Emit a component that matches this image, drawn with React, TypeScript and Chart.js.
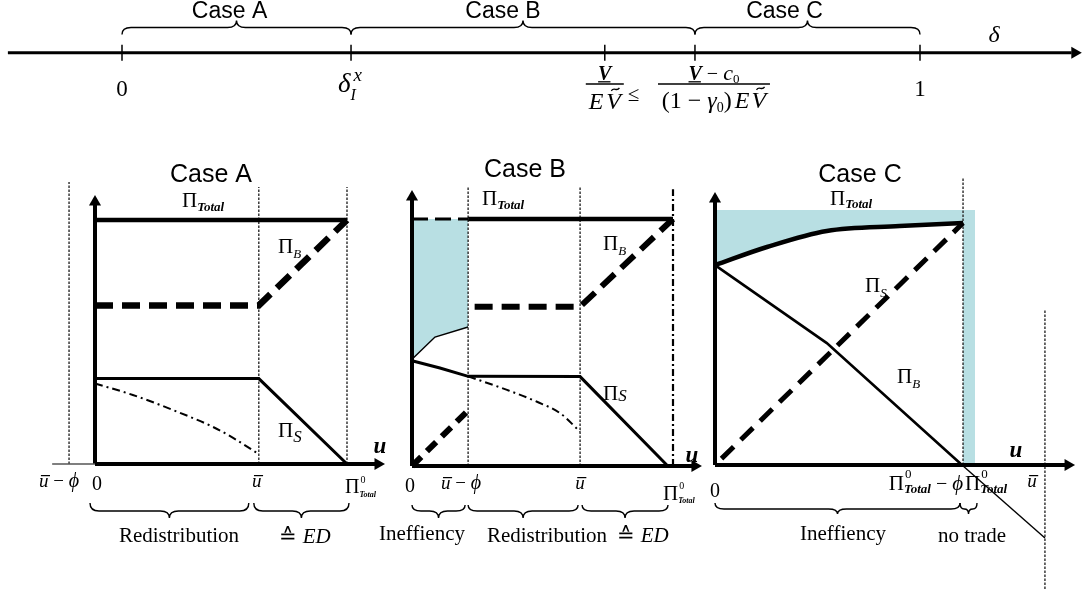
import React, { useEffect, useRef } from 'react';
import { Chart, registerables } from 'chart.js';

Chart.register(...registerables);

// ---------------- fonts & colours ----------------
const SANS = '"Liberation Sans", Arial, Helvetica, sans-serif';
const SERIF = '"Liberation Serif", "Times New Roman", Times, serif';
const INK = '#000000';
const GUIDE = '#2a2a2a';
const BLUE = 'rgb(184, 223, 227)';
const PHI = 'ϕ';

// ---------------- data: δ number line ----------------
const deltaI = 0.287;
const deltaLow = 0.605;
const deltaHigh = 0.718;
const deltaTicks = [0, deltaI, deltaLow, deltaHigh, 1];
const deltaAxis = [-0.143, 1.19];
const caseLabels = ['Case A', 'Case B', 'Case C'];
const caseRanges = [[0, deltaI], [deltaI, deltaHigh], [deltaHigh, 1]];

// ---------------- data: Case A (u on x, payoff on y, Π⁰_Total = 100) ----------------
const piTotalA = 100;
const uBarA = 65;
const uBarPhiA = -10.3;
const totalA = [[0, 100], [100, 100]];
const buyerA = [[0, 65], [65, 65], [100, 100]];
const sellerA = [[0, 35], [65, 35], [100, 0]];
const sellerAltA = [[0, 33], [15, 28.3], [31, 22.1], [46.8, 15.2], [54.8, 10.7], [64.3, 4.5]];
const guidesA = [[uBarPhiA, 0, 115.6], [uBarA, 0, 113.5], [piTotalA, 0, 113.5]];
const axesA = { xStart: -17, xEnd: 112.3, yEnd: 107.4 };

// ---------------- data: Case B ----------------
const piTotalB = 100;
const uBarB = 64.4;
const uBarPhiB = 21.5;
const totalDashB = [[0, 100], [21.5, 100]];
const totalB = [[21.5, 100], [100, 100]];
const buyerLowB = [[0, 0], [21.5, 22.5]];
const buyerB = [[24, 64.5], [64.4, 64.5], [100, 100]];
const sellerB = [[0, 42.6], [10.7, 39.7], [21.5, 36.3], [64.4, 36.2], [98, 0]];
const sellerAltB = [[21.5, 36.3], [36.4, 30.8], [47.9, 26], [56.7, 21.4], [64.4, 13.9]];
const lossEdgeB = [[0.5, 43.7], [8.8, 52.2], [21.5, 56.3]];
const guidesB = [[uBarPhiB, 0, 113], [uBarB, 0, 113]];
const edgeGuideB = [piTotalB, 0, 112];
const axesB = { xEnd: 108.4, yEnd: 108.9 };

// ---------------- data: Case C ----------------
const piTotalC = 100;
const piPhiC = 95.4;
const uBarC = 126.9;
const totalC = [[0, 78.4], [20, 85.5], [43, 91.8], [71, 93.7], [95.4, 94.9]];
const sellerC = [[2.5, 2.5], [95.4, 94.9]];
const buyerC = [[0, 78.4], [43, 47.8], [95, 0]];
const buyerExtC = [[95, 0], [126.9, -28.6]];
const guidesC = [[piPhiC, 0, 112.5], [uBarC, -48.6, 60.8]];
const axesC = { xEnd: 135.8, yEnd: 104.3 };

// ---------------- layout (page pixels) ----------------
type Box = { left: number; top: number; width: number; height: number; ox: number; oy: number; sx: number; sy: number };
const BOX_TOP: Box = { left: 0, top: 0, width: 1084, height: 130, ox: 122, oy: 52.7, sx: 798, sy: 1 };
const BOX_A: Box = { left: 0, top: 140, width: 392, height: 430, ox: 95, oy: 464, sx: 2.52, sy: 2.44 };
const BOX_B: Box = { left: 370, top: 140, width: 340, height: 430, ox: 412, oy: 466, sx: 2.61, sy: 2.47 };
const BOX_C: Box = { left: 700, top: 140, width: 384, height: 452, ox: 715, oy: 465, sx: 2.6, sy: 2.55 };
const caseLabelShift = [-7, -20, -23];

// ---------------- helpers ----------------
const P = (a: number[][]) => a.map(([x, y]) => ({ x, y }));

function seg(data: number[][], o: any = {}) {
  return {
    data: P(data), showLine: true, pointRadius: 0, pointHoverRadius: 0, borderColor: INK,
    borderWidth: 2, backgroundColor: INK, fill: false, tension: 0, borderCapStyle: 'butt',
    borderJoinStyle: 'miter', ...o,
  };
}
function guide(g: number[], o: any = {}) {
  return seg([[g[0], g[1]], [g[0], g[2]]], { borderColor: GUIDE, borderWidth: 1.4, borderDash: [2.5, 1.5], ...o });
}
function arrow(x: number, y: number, rot: number) {
  return {
    data: [{ x, y }], showLine: false, pointRadius: 7, pointHoverRadius: 7, pointStyle: 'triangle',
    pointRotation: rot, pointBackgroundColor: INK, pointBorderColor: INK, pointBorderWidth: 0,
  };
}

type Run = { t: string; s: number; sans?: boolean; i?: boolean; b?: boolean; dy?: number; dx?: number; over?: boolean; under?: boolean; tilde?: boolean; noAdv?: boolean };
const fontOf = (r: Run) => `${r.i ? 'italic ' : ''}${r.b ? 'bold ' : ''}${r.s}px ${r.sans ? SANS : SERIF}`;

function tildeMark(ctx: CanvasRenderingContext2D, cx: number, cy: number, w: number) {
  ctx.beginPath();
  ctx.lineWidth = 1.3;
  ctx.moveTo(cx - w / 2, cy + 1.5);
  ctx.bezierCurveTo(cx - w / 6, cy - 3, cx + w / 6, cy + 3, cx + w / 2, cy - 1.5);
  ctx.stroke();
}

function text(ctx: CanvasRenderingContext2D, x: number, y: number, runs: Run[], align = 'left') {
  ctx.save();
  ctx.fillStyle = INK;
  ctx.strokeStyle = INK;
  ctx.textBaseline = 'alphabetic';
  ctx.textAlign = 'left';
  const ws = runs.map((r) => { ctx.font = fontOf(r); return ctx.measureText(r.t).width; });
  let total = 0;
  runs.forEach((r, k) => { if (!r.noAdv) total += (r.dx || 0) + ws[k]; });
  let cx = align === 'center' ? x - total / 2 : align === 'right' ? x - total : x;
  runs.forEach((r, k) => {
    const px = cx + (r.dx || 0);
    const by = y + (r.dy || 0);
    const w = ws[k];
    ctx.font = fontOf(r);
    ctx.fillText(r.t, px, by);
    ctx.lineWidth = Math.max(1.1, r.s * 0.065);
    if (r.over) {
      ctx.beginPath();
      ctx.moveTo(px + r.s * 0.1, by - r.s * 0.6);
      ctx.lineTo(px + w + r.s * 0.08, by - r.s * 0.6);
      ctx.stroke();
    }
    if (r.under) {
      ctx.beginPath();
      ctx.moveTo(px, by + r.s * 0.09);
      ctx.lineTo(px + w - r.s * 0.05, by + r.s * 0.09);
      ctx.stroke();
    }
    if (r.tilde) tildeMark(ctx, px + w * 0.62, by - r.s * 0.82, w * 0.55);
    if (!r.noAdv) cx = px + w;
  });
  ctx.restore();
}

function hline(ctx: CanvasRenderingContext2D, x1: number, x2: number, y: number, lw: number) {
  ctx.save();
  ctx.strokeStyle = INK;
  ctx.lineWidth = lw;
  ctx.beginPath();
  ctx.moveTo(x1, y);
  ctx.lineTo(x2, y);
  ctx.stroke();
  ctx.restore();
}

function brace(ctx: CanvasRenderingContext2D, x1: number, x2: number, yEnd: number, yFlat: number, yTip: number) {
  const xt = (x1 + x2) / 2;
  const r = Math.min(9, (x2 - x1) / 4);
  ctx.save();
  ctx.lineWidth = 1.4;
  ctx.strokeStyle = INK;
  ctx.beginPath();
  ctx.moveTo(x1, yEnd);
  ctx.quadraticCurveTo(x1, yFlat, x1 + r, yFlat);
  ctx.lineTo(xt - r, yFlat);
  ctx.quadraticCurveTo(xt, yFlat, xt, yTip);
  ctx.quadraticCurveTo(xt, yFlat, xt + r, yFlat);
  ctx.lineTo(x2 - r, yFlat);
  ctx.quadraticCurveTo(x2, yFlat, x2, yEnd);
  ctx.stroke();
  ctx.restore();
}

const PI = (sub: string, s = 21, ss = 13, dy = 5, italicBold = false): Run[] => [
  { t: 'Π', s }, { t: sub, s: ss, i: true, b: italicBold, dy },
];
const PI0 = (s: number, sup: number, sub: number, supDy: number, subDy: number): Run[] => [
  { t: 'Π', s }, { t: '0', s: sup, dy: supDy, dx: 1, noAdv: true }, { t: 'Total', s: sub, i: true, b: true, dy: subDy },
];
const UBAR = (s: number): Run => ({ t: 'u', s, i: true, over: true });

// ---------------- drawings per chart ----------------
function drawTop(ctx: CanvasRenderingContext2D, X: (v: number) => number) {
  caseRanges.forEach(([a, b], k) => {
    brace(ctx, X(a), X(b), 34.5, 27.5, 20.5);
    text(ctx, X((a + b) / 2) + caseLabelShift[k], 18, [{ t: caseLabels[k], s: 23, sans: true }], 'center');
  });
  text(ctx, X(0), 96, [{ t: '0', s: 23 }], 'center');
  text(ctx, X(deltaI) - 13, 92, [
    { t: 'δ', s: 27, i: true },
    { t: 'x', s: 19, i: true, dy: -11, dx: 3, noAdv: true },
    { t: 'I', s: 16, i: true, dy: 8 },
  ]);
  const c1 = X(deltaLow);
  text(ctx, c1, 80, [{ t: 'V', s: 20, i: true, b: true, under: true }], 'center');
  hline(ctx, c1 - 19, c1 + 19, 84, 1.3);
  text(ctx, c1, 109, [{ t: 'E', s: 24, i: true }, { t: 'V', s: 24, i: true, dx: 3, tilde: true }], 'center');
  text(ctx, c1 + 23, 101, [{ t: '≤', s: 21 }]);
  const c2 = X(deltaHigh) + 19;
  text(ctx, c2, 80, [
    { t: 'V', s: 20, i: true, b: true, under: true },
    { t: ' − ', s: 20 },
    { t: 'c', s: 22, i: true },
    { t: '0', s: 13, dy: 3 },
  ], 'center');
  hline(ctx, c2 - 56, c2 + 56, 84, 1.3);
  text(ctx, c2, 108, [
    { t: '(1 − ', s: 24 },
    { t: 'γ', s: 24, i: true },
    { t: '0', s: 14, dy: 4 },
    { t: ')', s: 24 },
    { t: 'E', s: 24, i: true, dx: 3 },
    { t: 'V', s: 24, i: true, dx: 2, tilde: true },
  ], 'center');
  text(ctx, X(1), 96, [{ t: '1', s: 23 }], 'center');
  text(ctx, 994, 42, [{ t: 'δ', s: 24, i: true }], 'center');
}

function drawA(ctx: CanvasRenderingContext2D, X: (v: number) => number) {
  text(ctx, 211, 182, [{ t: 'Case A', s: 25, sans: true }], 'center');
  text(ctx, 182, 207, PI('Total', 21, 13, 4, true));
  text(ctx, 278, 253, PI('B', 21, 13, 5));
  text(ctx, 278, 437, PI('S', 21, 17, 5));
  text(ctx, 380, 453, [{ t: 'u', s: 23, i: true, b: true }], 'center');
  text(ctx, X(uBarPhiA) - 10, 487, [UBAR(19), { t: ' − ', s: 19 }, { t: PHI, s: 20, i: true }], 'center');
  text(ctx, X(0) + 2, 490, [{ t: '0', s: 20 }], 'center');
  text(ctx, X(uBarA) - 2, 487, [UBAR(19)], 'center');
  text(ctx, X(piTotalA) - 2, 493, PI0(20, 10, 8, -10.5, 3.5));
  brace(ctx, X(0) - 5, X(uBarA) - 10, 503, 511, 518);
  brace(ctx, X(uBarA) - 5, X(piTotalA) + 2, 503, 511, 518);
  text(ctx, 179, 542, [{ t: 'Redistribution', s: 21 }], 'center');
  text(ctx, 305, 543, [{ t: '≙ ', s: 21 }, { t: 'ED', s: 21, i: true }], 'center');
}

function drawB(ctx: CanvasRenderingContext2D, X: (v: number) => number) {
  text(ctx, 525, 177, [{ t: 'Case B', s: 25, sans: true }], 'center');
  text(ctx, 482, 205, PI('Total', 21, 13, 4, true));
  text(ctx, 603, 250, PI('B', 21, 13, 5));
  text(ctx, 603, 400, PI('S', 21, 17, 1));
  text(ctx, 692, 462, [{ t: 'u', s: 23, i: true, b: true }], 'center');
  text(ctx, X(0) - 2, 492, [{ t: '0', s: 20 }], 'center');
  text(ctx, X(uBarPhiB) - 7, 489, [UBAR(19), { t: ' − ', s: 19 }, { t: PHI, s: 20, i: true }], 'center');
  text(ctx, X(uBarB), 489, [UBAR(19)], 'center');
  text(ctx, X(piTotalB) - 10, 500, PI0(21, 10, 8, -11, 3));
  brace(ctx, X(0), X(uBarPhiB) - 3, 505, 511, 518);
  brace(ctx, X(uBarPhiB), X(uBarB) - 2, 505, 511, 518);
  brace(ctx, X(uBarB) + 2, X(piTotalB) - 5, 505, 511, 518);
  text(ctx, 422, 540, [{ t: 'Ineffiency', s: 21 }], 'center');
  text(ctx, 547, 542, [{ t: 'Redistribution', s: 21 }], 'center');
  text(ctx, 643, 542, [{ t: '≙ ', s: 21 }, { t: 'ED', s: 21, i: true }], 'center');
}

function drawC(ctx: CanvasRenderingContext2D, X: (v: number) => number) {
  text(ctx, 860, 182, [{ t: 'Case C', s: 25, sans: true }], 'center');
  text(ctx, 830, 205, PI('Total', 21, 13, 3, true));
  text(ctx, 865, 292, PI('S', 21, 13, 5));
  text(ctx, 897, 383, PI('B', 21, 13, 5));
  text(ctx, 1016, 457, [{ t: 'u', s: 23, i: true, b: true }], 'center');
  text(ctx, X(0), 497, [{ t: '0', s: 20 }], 'center');
  text(ctx, X(piPhiC), 490, [...PI0(21, 13, 13, -12, 3), { t: ' − ', s: 20 }, { t: PHI, s: 21, i: true }], 'right');
  text(ctx, X(piTotalC) - 10, 490, PI0(21, 13, 13, -12, 3));
  text(ctx, X(uBarC) - 13, 487, [UBAR(19)], 'center');
  brace(ctx, X(0), X(piPhiC) - 3, 503, 509, 514);
  brace(ctx, X(piPhiC) - 3, X(piTotalC) + 2, 503, 509, 514);
  text(ctx, 843, 540, [{ t: 'Ineffiency', s: 21 }], 'center');
  text(ctx, 972, 542, [{ t: 'no trade', s: 21 }], 'center');
}

// ---------------- dataset builders ----------------
function datasetsTop() {
  return [
    seg([[deltaAxis[0], 0], [deltaAxis[1], 0]], { borderWidth: 3 }),
    {
      data: deltaTicks.map((v) => ({ x: v, y: 0 })), showLine: false, pointRadius: 8, pointHoverRadius: 8,
      pointStyle: 'line', pointRotation: 90, pointBorderColor: INK, pointBorderWidth: 1.5, pointBackgroundColor: INK,
    },
    arrow(deltaAxis[1] + 0.004, 0, 90),
  ];
}

function datasetsA() {
  return [
    seg([[0, 0], [axesA.xEnd, 0]], { borderWidth: 4 }),
    seg([[axesA.xStart, 0], [0, 0]], { borderWidth: 1.4, borderColor: '#555' }),
    seg([[0, 0], [0, axesA.yEnd]], { borderWidth: 4 }),
    arrow(axesA.xEnd, 0, 90),
    arrow(0, axesA.yEnd, 0),
    seg(totalA, { borderWidth: 4.5 }),
    seg(buyerA, { borderWidth: 6.5, borderDash: [18, 9] }),
    seg(sellerA, { borderWidth: 3 }),
    seg(sellerAltA, { borderWidth: 2, borderDash: [8, 4, 2, 4], cubicInterpolationMode: 'monotone' }),
    ...guidesA.map((g) => guide(g)),
  ];
}

function datasetsB() {
  const ds: any[] = [
    seg([[0, 0], [axesB.xEnd, 0]], { borderWidth: 4 }),
    seg([[0, 0], [0, axesB.yEnd]], { borderWidth: 4 }),
    arrow(axesB.xEnd, 0, 90),
    arrow(0, axesB.yEnd, 0),
    seg(totalB, { borderWidth: 4.5 }),
    seg(totalDashB, { borderWidth: 3, borderDash: [16, 7] }),
    seg(buyerB, { borderWidth: 6, borderDash: [18, 9] }),
    seg(buyerLowB, { borderWidth: 6, borderDash: [13, 8] }),
    seg(sellerB, { borderWidth: 3 }),
    seg(sellerAltB, { borderWidth: 2, borderDash: [8, 4, 2, 4], cubicInterpolationMode: 'monotone' }),
    ...guidesB.map((g) => guide(g)),
    guide(edgeGuideB, { borderWidth: 2.2, borderColor: INK, borderDash: [7, 3, 2, 3] }),
  ];
  const edgeIndex = ds.push(seg(lossEdgeB, { borderWidth: 1.5 })) - 1;
  ds.push(seg(lossEdgeB.map(([x]) => [x, piTotalB]), { borderWidth: 0, fill: edgeIndex, backgroundColor: BLUE, order: 10 }));
  return ds;
}

function datasetsC() {
  const ds: any[] = [
    seg([[0, 0], [axesC.xEnd, 0]], { borderWidth: 4 }),
    seg([[0, 0], [0, axesC.yEnd]], { borderWidth: 4 }),
    arrow(axesC.xEnd, 0, 90),
    arrow(0, axesC.yEnd, 0),
    seg(sellerC, { borderWidth: 5, borderDash: [17, 10] }),
    seg(buyerC, { borderWidth: 2.6 }),
    seg(buyerExtC, { borderWidth: 1.4 }),
    ...guidesC.map((g) => guide(g)),
  ];
  const curveIndex = ds.push(seg(totalC, { borderWidth: 4.5, cubicInterpolationMode: 'monotone' })) - 1;
  ds.push(seg(totalC.map(([x]) => [x, piTotalC]), { borderWidth: 0, fill: curveIndex, backgroundColor: BLUE, order: 10 }));
  ds.push(seg([[piPhiC, piTotalC], [piTotalC, piTotalC]], { borderWidth: 0, fill: 'origin', backgroundColor: BLUE, order: 10 }));
  return ds;
}

function makeChart(canvas: HTMLCanvasElement, box: Box, datasets: any[], draw: (ctx: CanvasRenderingContext2D, X: (v: number) => number) => void) {
  return new Chart(canvas, {
    type: 'line',
    data: { datasets },
    options: {
      animation: false,
      responsive: false,
      maintainAspectRatio: false,
      events: [],
      layout: { padding: 0, autoPadding: false },
      plugins: { legend: { display: false }, tooltip: { enabled: false }, title: { display: false } },
      scales: {
        x: { type: 'linear', display: false, min: (box.left - box.ox) / box.sx, max: (box.left + box.width - box.ox) / box.sx },
        y: { type: 'linear', display: false, min: (box.oy - box.top - box.height) / box.sy, max: (box.oy - box.top) / box.sy },
      },
    },
    plugins: [{
      id: 'annotations',
      afterDatasetsDraw(chart: any) {
        const ctx = chart.ctx as CanvasRenderingContext2D;
        ctx.save();
        ctx.translate(-box.left, -box.top);
        const X = (v: number) => chart.scales.x.getPixelForValue(v) + box.left;
        draw(ctx, X);
        ctx.restore();
      },
    }],
  } as any);
}

const boxes = [BOX_TOP, BOX_A, BOX_B, BOX_C];

export default function App() {
  const refs = [useRef<HTMLCanvasElement>(null), useRef<HTMLCanvasElement>(null), useRef<HTMLCanvasElement>(null), useRef<HTMLCanvasElement>(null)];
  useEffect(() => {
    const builders = [datasetsTop, datasetsA, datasetsB, datasetsC];
    const draws = [drawTop, drawA, drawB, drawC];
    const charts = boxes.map((b, k) => makeChart(refs[k].current as HTMLCanvasElement, b, builders[k](), draws[k]));
    return () => charts.forEach((c) => c.destroy());
  }, []);
  return (
    <div style={{ position: 'fixed', left: 0, top: 0, width: 1084, height: 592, background: '#ffffff', overflow: 'hidden' }}>
      {boxes.map((b, k) => (
        <canvas
          key={k}
          ref={refs[k]}
          width={b.width}
          height={b.height}
          style={{ position: 'absolute', left: b.left, top: b.top, width: b.width, height: b.height }}
        />
      ))}
    </div>
  );
}
